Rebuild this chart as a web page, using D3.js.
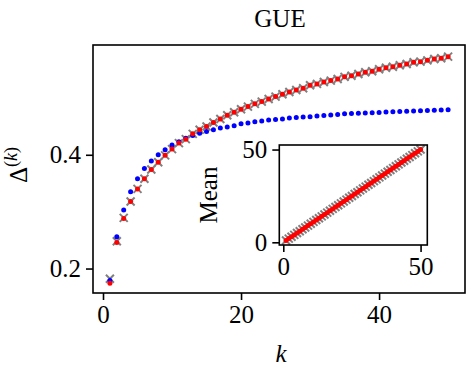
<!DOCTYPE html>
<html>
<head>
<meta charset="utf-8">
<script src="https://cdn.jsdelivr.net/npm/d3@7"></script>
<style>
  body { margin: 0; background: #fff; }
  svg text { font-family: "Liberation Serif", "DejaVu Serif", serif !important; fill: #000; }
</style>
</head>
<body>
<div id="chart"></div>
<script>
// k values and the three series
const ks = d3.range(1, 51);
const deltaGray = [0.182, 0.248, 0.289, 0.318, 0.340, 0.358, 0.374, 0.387, 0.399, 0.410,
  0.4205, 0.4275, 0.4368, 0.4439, 0.4497, 0.4567, 0.463, 0.4696, 0.4748, 0.480,
  0.4847, 0.4895, 0.4935, 0.4982, 0.5023, 0.5065, 0.5105, 0.514, 0.517, 0.5223,
  0.5246, 0.528, 0.5304, 0.5333, 0.537, 0.539, 0.542, 0.545, 0.5468, 0.5503,
  0.553, 0.5549, 0.5573, 0.5596, 0.5626, 0.5637, 0.566, 0.5684, 0.5696, 0.5725];
const deltaRed = [0.174, 0.246, 0.288, 0.318, 0.340, 0.358, 0.374, 0.387, 0.399, 0.410,
  0.4205, 0.4275, 0.4368, 0.4439, 0.4497, 0.4567, 0.463, 0.4696, 0.4748, 0.480,
  0.4847, 0.4895, 0.4935, 0.4982, 0.5023, 0.5065, 0.5105, 0.514, 0.517, 0.5223,
  0.5246, 0.528, 0.5304, 0.5333, 0.537, 0.539, 0.542, 0.545, 0.5468, 0.5503,
  0.553, 0.5549, 0.5573, 0.5596, 0.5626, 0.5637, 0.566, 0.5684, 0.5696, 0.5725];
const deltaBlue = [0.179, 0.256, 0.303, 0.335, 0.358, 0.376, 0.389, 0.400, 0.409, 0.417,
  0.423, 0.429, 0.434, 0.438, 0.441, 0.444, 0.447, 0.449, 0.451, 0.4545,
  0.456, 0.458, 0.4595, 0.461, 0.462, 0.463, 0.4645, 0.4655, 0.4665, 0.467,
  0.468, 0.469, 0.470, 0.471, 0.472, 0.4725, 0.473, 0.4735, 0.474, 0.4745,
  0.475, 0.4755, 0.476, 0.4765, 0.477, 0.4775, 0.478, 0.4783, 0.4786, 0.479];
// inset: mean vs k
const meanVals = [1, 2, 3, 4, 5, 6, 7, 8, 9, 10, 11, 12, 13, 14, 15, 16, 17, 18, 19, 20,
  21, 22, 23, 24, 25, 26, 27, 28, 29, 30, 31, 32, 33, 34, 35, 36, 37, 38, 39, 40,
  41, 42, 43, 44, 45, 46, 47, 48, 49, 50];

const xTicks = [0, 20, 40];
const yTicks = [0.2, 0.4];
const insetTicks = [0, 50];

const width = 473, height = 379;
const svg = d3.select('#chart').append('svg')
    .attr('width', width)
    .attr('height', height);

const fs = 25;
const serif = '"Liberation Serif", "DejaVu Serif", serif';
const crossPath = 'M-4,-4L4,4M-4,4L4,-4';

// main axes
const x = d3.scaleLinear().domain([-1.45, 52.45]).range([93, 465]);
const y = d3.scaleLinear().domain([0.157, 0.593]).range([293, 45]);

function drawAxes(g, xs, ys, xt, yt, yfmt) {
    g.append('g')
        .attr('transform', `translate(0,${ys.range()[0]})`)
        .attr('font-family', serif)
        .call(d3.axisBottom(xs).tickValues(xt).tickSize(7).tickPadding(5).tickFormat(d3.format('d')))
        .call(a => a.select('.domain').remove())
        .call(a => a.selectAll('line').attr('stroke-width', 1.6))
        .call(a => a.selectAll('text').style('font-size', fs + 'px').style('font-family', serif));
    g.append('g')
        .attr('transform', `translate(${xs.range()[0]},0)`)
        .attr('font-family', serif)
        .call(d3.axisLeft(ys).tickValues(yt).tickSize(7).tickPadding(5).tickFormat(yfmt))
        .call(a => a.select('.domain').remove())
        .call(a => a.selectAll('line').attr('stroke-width', 1.6))
        .call(a => a.selectAll('text').style('font-size', fs + 'px').style('font-family', serif));
}

function drawSeries(g, xs, ys, vals, kind, color) {
    const pts = ks.map((k, i) => [k, vals[i]]);
    if (kind === 'cross') {
        g.append('g').selectAll('path')
            .data(pts).enter().append('path')
            .attr('d', crossPath)
            .attr('transform', d => `translate(${xs(d[0])},${ys(d[1])})`)
            .attr('stroke', color)
            .attr('stroke-width', 2)
            .attr('fill', 'none');
    } else {
        g.append('g').selectAll('circle')
            .data(pts).enter().append('circle')
            .attr('cx', d => xs(d[0]))
            .attr('cy', d => ys(d[1]))
            .attr('r', 2.5)
            .attr('fill', color);
    }
}

const main = svg.append('g');
drawSeries(main, x, y, deltaGray, 'cross', '#808080');
drawSeries(main, x, y, deltaBlue, 'dot', '#0000ff');
drawSeries(main, x, y, deltaRed, 'dot', '#ff0000');

main.append('rect')
    .attr('x', 93).attr('y', 45)
    .attr('width', 465 - 93).attr('height', 293 - 45)
    .attr('fill', 'none').attr('stroke', '#000').attr('stroke-width', 1.6);
drawAxes(main, x, y, xTicks, yTicks, d3.format('.1f'));

// title and labels
svg.append('text')
    .attr('x', 280).attr('y', 27)
    .attr('text-anchor', 'middle')
    .style('font-size', '25px')
    .text('GUE');

svg.append('text')
    .attr('x', 281).attr('y', 362)
    .attr('text-anchor', 'middle')
    .style('font-size', fs + 'px')
    .style('font-style', 'italic')
    .text('k');

const yl = svg.append('text')
    .attr('transform', 'translate(27,165) rotate(-90)')
    .attr('text-anchor', 'middle')
    .style('font-size', fs + 'px');
yl.append('tspan').text('Δ');
yl.append('tspan').attr('dy', -10).style('font-size', '18px').text('(');
yl.append('tspan').style('font-size', '18px').style('font-style', 'italic').text('k');
yl.append('tspan').style('font-size', '18px').text(')');

// inset
const ix = d3.scaleLinear().domain([-1.45, 52.45]).range([279.3, 427.3]);
const iy = d3.scaleLinear().domain([-1.45, 52.45]).range([245, 145]);
const inset = svg.append('g');
inset.append('rect')
    .attr('x', 279.3).attr('y', 145)
    .attr('width', 427.3 - 279.3).attr('height', 100)
    .attr('fill', '#fff');
drawSeries(inset, ix, iy, meanVals, 'cross', '#808080');
drawSeries(inset, ix, iy, meanVals, 'dot', '#ff0000');
inset.append('rect')
    .attr('x', 279.3).attr('y', 145)
    .attr('width', 427.3 - 279.3).attr('height', 100)
    .attr('fill', 'none').attr('stroke', '#000').attr('stroke-width', 1.6);
drawAxes(inset, ix, iy, insetTicks, insetTicks, d3.format('d'));

svg.append('text')
    .attr('transform', 'translate(217,195) rotate(-90)')
    .attr('text-anchor', 'middle')
    .style('font-size', fs + 'px')
    .text('Mean');
</script>
</body>
</html>
